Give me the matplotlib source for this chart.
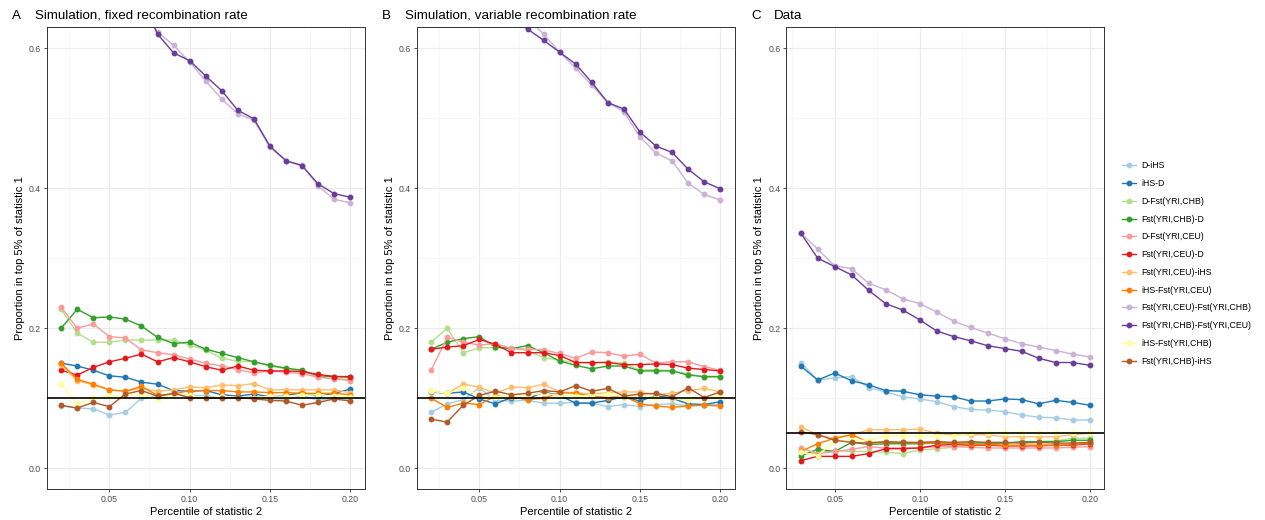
import matplotlib
matplotlib.use("Agg")
import matplotlib.pyplot as plt
from matplotlib.ticker import MultipleLocator

plt.rcParams['font.family'] = ['Liberation Sans', 'DejaVu Sans']

# series names (legend order) and Paired palette
series = ["D-iHS", "iHS-D", "D-Fst(YRI,CHB)", "Fst(YRI,CHB)-D", "D-Fst(YRI,CEU)",
          "Fst(YRI,CEU)-D", "Fst(YRI,CEU)-iHS", "iHS-Fst(YRI,CEU)",
          "Fst(YRI,CEU)-Fst(YRI,CHB)", "Fst(YRI,CHB)-Fst(YRI,CEU)",
          "iHS-Fst(YRI,CHB)", "Fst(YRI,CHB)-iHS"]
colors = ["#A6CEE3", "#1F78B4", "#B2DF8A", "#33A02C", "#FB9A99", "#E31A1C",
          "#FDBF6F", "#FF7F00", "#CAB2D6", "#6A3D9A", "#FFFF99", "#B15928"]

x_sim = [0.02, 0.03, 0.04, 0.05, 0.06, 0.07, 0.08, 0.09, 0.10, 0.11,
         0.12, 0.13, 0.14, 0.15, 0.16, 0.17, 0.18, 0.19, 0.20]
x_data = [0.03, 0.04, 0.05, 0.06, 0.07, 0.08, 0.09, 0.10, 0.11,
          0.12, 0.13, 0.14, 0.15, 0.16, 0.17, 0.18, 0.19, 0.20]

# A: simulation, fixed recombination rate
fixed = [
    [0.089, 0.086, 0.085, 0.076, 0.080, 0.100, 0.104, 0.106, 0.104, 0.104, 0.100, 0.100, 0.102, 0.100, 0.098, 0.104, 0.097, 0.100, 0.098],
    [0.150, 0.146, 0.140, 0.132, 0.130, 0.123, 0.120, 0.111, 0.110, 0.111, 0.105, 0.103, 0.106, 0.102, 0.104, 0.108, 0.103, 0.107, 0.113],
    [0.227, 0.193, 0.180, 0.180, 0.183, 0.183, 0.183, 0.183, 0.176, 0.169, 0.157, 0.153, 0.152, 0.146, 0.142, 0.139, 0.130, 0.128, 0.127],
    [0.200, 0.227, 0.215, 0.216, 0.213, 0.203, 0.187, 0.178, 0.180, 0.170, 0.164, 0.158, 0.152, 0.147, 0.143, 0.140, 0.132, 0.131, 0.130],
    [0.230, 0.200, 0.206, 0.188, 0.186, 0.169, 0.165, 0.162, 0.156, 0.150, 0.146, 0.141, 0.136, 0.139, 0.137, 0.135, 0.130, 0.128, 0.125],
    [0.140, 0.133, 0.144, 0.152, 0.157, 0.163, 0.152, 0.158, 0.152, 0.145, 0.140, 0.146, 0.140, 0.139, 0.139, 0.138, 0.134, 0.131, 0.131],
    [0.148, 0.125, 0.119, 0.112, 0.110, 0.114, 0.110, 0.112, 0.116, 0.115, 0.119, 0.118, 0.121, 0.112, 0.112, 0.112, 0.112, 0.112, 0.108],
    [0.150, 0.127, 0.120, 0.112, 0.110, 0.117, 0.104, 0.106, 0.111, 0.111, 0.111, 0.109, 0.109, 0.108, 0.108, 0.107, 0.107, 0.107, 0.105],
    [0.900, 0.840, 0.780, 0.730, 0.690, 0.660, 0.623, 0.604, 0.580, 0.553, 0.527, 0.506, 0.497, 0.458, 0.439, 0.433, 0.403, 0.384, 0.379],
    [0.920, 0.860, 0.800, 0.750, 0.710, 0.670, 0.620, 0.593, 0.582, 0.560, 0.539, 0.511, 0.499, 0.460, 0.439, 0.432, 0.406, 0.392, 0.387],
    [0.120, 0.092, 0.100, 0.103, 0.103, 0.106, 0.099, 0.105, 0.104, 0.100, 0.103, 0.101, 0.100, 0.103, 0.103, 0.104, 0.105, 0.103, 0.102],
    [0.090, 0.086, 0.094, 0.088, 0.106, 0.111, 0.103, 0.107, 0.101, 0.100, 0.100, 0.101, 0.099, 0.097, 0.096, 0.090, 0.094, 0.099, 0.096],
]

# B: simulation, variable recombination rate
variable = [
    [0.080, 0.092, 0.098, 0.115, 0.097, 0.096, 0.097, 0.093, 0.093, 0.094, 0.093, 0.088, 0.091, 0.088, 0.091, 0.092, 0.089, 0.091, 0.091],
    [0.109, 0.107, 0.109, 0.099, 0.092, 0.101, 0.099, 0.109, 0.104, 0.093, 0.093, 0.097, 0.102, 0.096, 0.104, 0.100, 0.092, 0.091, 0.095],
    [0.180, 0.200, 0.165, 0.172, 0.172, 0.172, 0.168, 0.158, 0.154, 0.151, 0.150, 0.152, 0.150, 0.140, 0.141, 0.139, 0.135, 0.130, 0.130],
    [0.170, 0.180, 0.185, 0.188, 0.173, 0.171, 0.175, 0.165, 0.153, 0.147, 0.142, 0.146, 0.146, 0.139, 0.139, 0.139, 0.133, 0.131, 0.131],
    [0.140, 0.187, 0.180, 0.176, 0.178, 0.171, 0.170, 0.169, 0.164, 0.157, 0.166, 0.165, 0.160, 0.163, 0.150, 0.152, 0.152, 0.145, 0.140],
    [0.170, 0.173, 0.175, 0.184, 0.177, 0.165, 0.165, 0.165, 0.161, 0.151, 0.151, 0.151, 0.148, 0.148, 0.149, 0.148, 0.143, 0.141, 0.139],
    [0.110, 0.107, 0.120, 0.116, 0.107, 0.116, 0.115, 0.120, 0.109, 0.108, 0.106, 0.108, 0.109, 0.109, 0.105, 0.107, 0.111, 0.114, 0.109],
    [0.100, 0.087, 0.093, 0.091, 0.103, 0.102, 0.098, 0.100, 0.108, 0.107, 0.103, 0.101, 0.103, 0.092, 0.089, 0.087, 0.089, 0.090, 0.089],
    [0.860, 0.810, 0.760, 0.720, 0.690, 0.665, 0.642, 0.620, 0.594, 0.571, 0.547, 0.522, 0.509, 0.473, 0.450, 0.439, 0.407, 0.391, 0.383],
    [0.840, 0.790, 0.750, 0.710, 0.680, 0.645, 0.627, 0.611, 0.594, 0.577, 0.551, 0.522, 0.513, 0.480, 0.460, 0.451, 0.427, 0.409, 0.399],
    [0.110, 0.107, 0.115, 0.103, 0.102, 0.103, 0.104, 0.107, 0.104, 0.103, 0.104, 0.106, 0.102, 0.104, 0.101, 0.100, 0.097, 0.101, 0.103],
    [0.070, 0.066, 0.090, 0.104, 0.110, 0.105, 0.107, 0.111, 0.109, 0.118, 0.110, 0.114, 0.103, 0.106, 0.107, 0.102, 0.115, 0.101, 0.109],
]

# C: data
data = [
    [0.151, 0.126, 0.129, 0.131, 0.115, 0.109, 0.102, 0.099, 0.095, 0.088, 0.084, 0.083, 0.081, 0.076, 0.073, 0.072, 0.069, 0.069],
    [0.146, 0.126, 0.136, 0.125, 0.119, 0.111, 0.110, 0.105, 0.103, 0.102, 0.096, 0.096, 0.099, 0.098, 0.092, 0.097, 0.094, 0.090],
    [0.020, 0.022, 0.025, 0.024, 0.024, 0.023, 0.021, 0.026, 0.028, 0.030, 0.033, 0.035, 0.035, 0.037, 0.038, 0.039, 0.043, 0.043],
    [0.018, 0.027, 0.024, 0.037, 0.034, 0.035, 0.035, 0.035, 0.036, 0.036, 0.036, 0.036, 0.036, 0.038, 0.038, 0.038, 0.040, 0.040],
    [0.029, 0.021, 0.024, 0.027, 0.031, 0.029, 0.029, 0.029, 0.031, 0.031, 0.030, 0.029, 0.029, 0.029, 0.029, 0.029, 0.030, 0.031],
    [0.011, 0.017, 0.017, 0.017, 0.021, 0.028, 0.028, 0.029, 0.033, 0.034, 0.033, 0.033, 0.032, 0.032, 0.032, 0.033, 0.033, 0.035],
    [0.059, 0.048, 0.042, 0.048, 0.055, 0.055, 0.055, 0.056, 0.050, 0.048, 0.048, 0.048, 0.045, 0.045, 0.045, 0.045, 0.048, 0.050],
    [0.024, 0.035, 0.043, 0.048, 0.037, 0.037, 0.037, 0.036, 0.036, 0.036, 0.034, 0.034, 0.033, 0.033, 0.033, 0.033, 0.034, 0.036],
    [0.336, 0.313, 0.289, 0.285, 0.264, 0.255, 0.242, 0.235, 0.223, 0.210, 0.201, 0.193, 0.185, 0.178, 0.173, 0.168, 0.163, 0.159],
    [0.336, 0.300, 0.288, 0.276, 0.254, 0.235, 0.226, 0.212, 0.196, 0.188, 0.182, 0.175, 0.171, 0.167, 0.157, 0.151, 0.151, 0.147],
    [0.023, 0.018, 0.039, 0.040, 0.040, 0.046, 0.046, 0.046, 0.046, 0.046, 0.050, 0.051, 0.051, 0.051, 0.051, 0.051, 0.051, 0.051],
    [0.052, 0.048, 0.040, 0.037, 0.036, 0.038, 0.037, 0.037, 0.038, 0.037, 0.038, 0.037, 0.037, 0.036, 0.037, 0.036, 0.036, 0.037],
]

panels = [
    ("A", "Simulation, fixed recombination rate", x_sim, fixed, 0.1),
    ("B", "Simulation, variable recombination rate", x_sim, variable, 0.1),
    ("C", "Data", x_data, data, 0.05),
]

W, H = 1265, 520
fig = plt.figure(figsize=(W / 100, H / 100), dpi=100)
lefts = [46.7, 416.7, 786.2]
pw, top, bot = 318, 27, 489.3

handles = []
for left, (letter, title, xs, vals, hline) in zip(lefts, panels):
    ax = fig.add_axes([left / W, (H - bot) / H, pw / W, (bot - top) / H])
    for name, col, ys in zip(series, colors, vals):
        ln, = ax.plot(xs, ys, color=col, lw=1.0, marker="o", ms=3.2,
                      mec=col, mfc=col, label=name)
        if letter == "A":
            handles.append(ln)
    ax.axhline(hline, color="black", lw=1.2, zorder=5)

    pad = (max(xs) - min(xs)) * 0.05
    ax.set_xlim(min(xs) - pad, max(xs) + pad)
    ax.set_ylim(-0.03, 0.63)
    ax.xaxis.set_major_locator(MultipleLocator(0.05))
    ax.xaxis.set_minor_locator(MultipleLocator(0.025))
    ax.yaxis.set_major_locator(MultipleLocator(0.2))
    ax.yaxis.set_minor_locator(MultipleLocator(0.1))
    ax.xaxis.set_major_formatter(lambda v, p: f"{v:.2f}")
    ax.yaxis.set_major_formatter(lambda v, p: f"{v:.1f}")
    ax.grid(which="major", color="#EBEBEB", lw=0.8)
    ax.grid(which="minor", color="#F4F4F4", lw=0.5)
    ax.set_axisbelow(True)
    ax.tick_params(which="major", labelsize=6.3, labelcolor="#4D4D4D",
                   color="#333333", length=2.5, width=0.6, pad=1.5)
    ax.tick_params(which="minor", length=0)
    for s in ax.spines.values():
        s.set_color("#333333")
        s.set_linewidth(0.7)
    ax.set_xlabel("Percentile of statistic 2", fontsize=8, labelpad=2)
    ax.set_ylabel("Proportion in top 5% of statistic 1", fontsize=8, labelpad=3)

    fig.text((left - 35) / W, 1 - 19 / H, letter, fontsize=9.6)
    fig.text((left - 12) / W, 1 - 19 / H, title, fontsize=9.6)

fig.legend(handles=handles, loc="upper left", bbox_to_anchor=(1118 / W, 1 - 157 / H),
           frameon=False, fontsize=6.3, handlelength=1.6, handletextpad=0.6,
           labelspacing=1.0, borderpad=0)

fig.savefig("out.png", dpi=100)
